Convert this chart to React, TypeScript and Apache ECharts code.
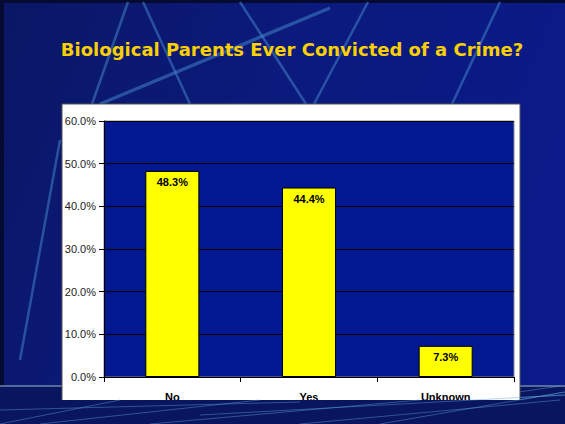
import React, { useEffect, useRef } from "react";
import * as echarts from "echarts";

const TITLE = "Biological Parents Ever Convicted of a Crime?";
const categories = ["No", "Yes", "Unknown"];
const values = [48.3, 44.4, 7.3];
const yTicks = { min: 0, max: 60, interval: 10 };

const W = 565;
const H = 424;

function bgLines(z: number) {
  const lines: [number, number, number, number, number][] = [
    [128, 2, 92, 104, 2.5],
    [143, 2, 190, 104, 2.5],
    [100, 104, 330, 8, 3.5],
    [240, 2, 306, 104, 2.5],
    [368, 2, 314, 104, 2.5],
    [500, 2, 452, 104, 2.5],
    [60, 140, 20, 360, 2.5],
  ];
  return lines.map(([x1, y1, x2, y2, w]) => ({
    type: "line",
    z,
    silent: true,
    shape: { x1, y1, x2, y2 },
    style: { stroke: "rgba(70,140,205,0.5)", lineWidth: w },
  }));
}

function bandLines(z: number, yTop: number) {
  const segs: [number, number, number, number][] = [
    [0, 424, 120, yTop],
    [40, 424, 260, yTop],
    [150, 424, 420, yTop],
    [300, 424, 560, yTop],
    [200, 415, 565, 395],
    [0, 410, 300, yTop + 2],
    [380, 424, 565, 392],
  ];
  return segs.map(([x1, y1, x2, y2]) => ({
    type: "line",
    z,
    silent: true,
    shape: { x1, y1, x2, y2 },
    style: { stroke: "rgba(90,160,220,0.45)", lineWidth: 1 },
  }));
}

export default function App() {
  const ref = useRef<HTMLDivElement>(null);
  useEffect(() => {
    document.body.style.margin = "0";
    const chart = echarts.init(ref.current!, null, { renderer: "svg" });
    const option: any = {
      animation: false,
      backgroundColor: {
        type: "linear",
        x: 0,
        y: 0,
        x2: 1,
        y2: 0.3,
        colorStops: [
          { offset: 0, color: "#0a1765" },
          { offset: 0.5, color: "#0b1a7c" },
          { offset: 1, color: "#0a1a88" },
        ],
      },
      graphic: [
        { type: "rect", z: -20, silent: true, shape: { x: 0, y: 0, width: W, height: 3 }, style: { fill: "#050a30" } },
        { type: "rect", z: -20, silent: true, shape: { x: 0, y: 0, width: 4, height: H }, style: { fill: "#050a30" } },
        ...bgLines(-19),
        { type: "rect", z: -18, silent: true, shape: { x: 0, y: 386, width: W, height: H - 386 }, style: { fill: "#0a1560" } },
        { type: "line", z: -17, silent: true, shape: { x1: 0, y1: 386, x2: W, y2: 386 }, style: { stroke: "#6f86a8", lineWidth: 1.5 } },
        ...bandLines(-17, 386),
        {
          type: "rect",
          z: -10,
          silent: true,
          shape: { x: 62, y: 104, width: 458, height: 310 },
          style: { fill: "#ffffff", stroke: "#555555", lineWidth: 1 },
        },
        {
          type: "text",
          z: 10,
          silent: true,
          x: 292,
          y: 49,
          style: {
            text: TITLE,
            fill: "#fcd000",
            font: "bold 18px 'DejaVu Sans', Verdana, sans-serif",
            align: "center",
            verticalAlign: "middle",
            textShadowColor: "rgba(0,0,0,0.8)",
            textShadowOffsetX: 1.5,
            textShadowOffsetY: 1.5,
            textShadowBlur: 0,
          },
        },
        { type: "rect", z: 100, silent: true, shape: { x: 0, y: 400, width: W, height: H - 400 }, style: { fill: "#0a1560" } },
        ...bandLines(101, 400),
      ],
      grid: {
        left: 104,
        right: W - 514,
        top: 121,
        bottom: H - 377,
        show: true,
        backgroundColor: "#021890",
        borderColor: "#8a8a8a",
        borderWidth: 1,
      },
      xAxis: {
        type: "category",
        data: categories,
        axisLine: { lineStyle: { color: "#000", width: 1 } },
        axisTick: { show: true, length: 5, lineStyle: { color: "#000" } },
        axisLabel: {
          color: "#000",
          fontWeight: "bold",
          fontSize: 11,
          fontFamily: "'Liberation Sans', Arial, sans-serif",
          margin: 14,
        },
      },
      yAxis: {
        type: "value",
        min: yTicks.min,
        max: yTicks.max,
        interval: yTicks.interval,
        axisLine: { show: true, lineStyle: { color: "#000", width: 1 } },
        axisTick: { show: true, length: 5, lineStyle: { color: "#000" } },
        splitLine: { show: true, lineStyle: { color: "#000", width: 1 } },
        axisLabel: {
          color: "#222",
          fontSize: 11,
          fontFamily: "'Liberation Sans', Arial, sans-serif",
          margin: 8,
          formatter: (v: number) => v.toFixed(1) + "%",
        },
      },
      series: [
        {
          type: "bar",
          data: values,
          barWidth: 54,
          itemStyle: { color: "#ffff00", borderColor: "#000", borderWidth: 1 },
          label: {
            show: true,
            position: "insideTop",
            distance: 6,
            color: "#000",
            fontWeight: "bold",
            fontSize: 11,
            fontFamily: "'Liberation Sans', Arial, sans-serif",
            formatter: (p: any) => p.value.toFixed(1) + "%",
          },
        },
      ],
    };
    chart.setOption(option);
    return () => chart.dispose();
  }, []);
  return <div ref={ref} style={{ width: W, height: H }} />;
}
